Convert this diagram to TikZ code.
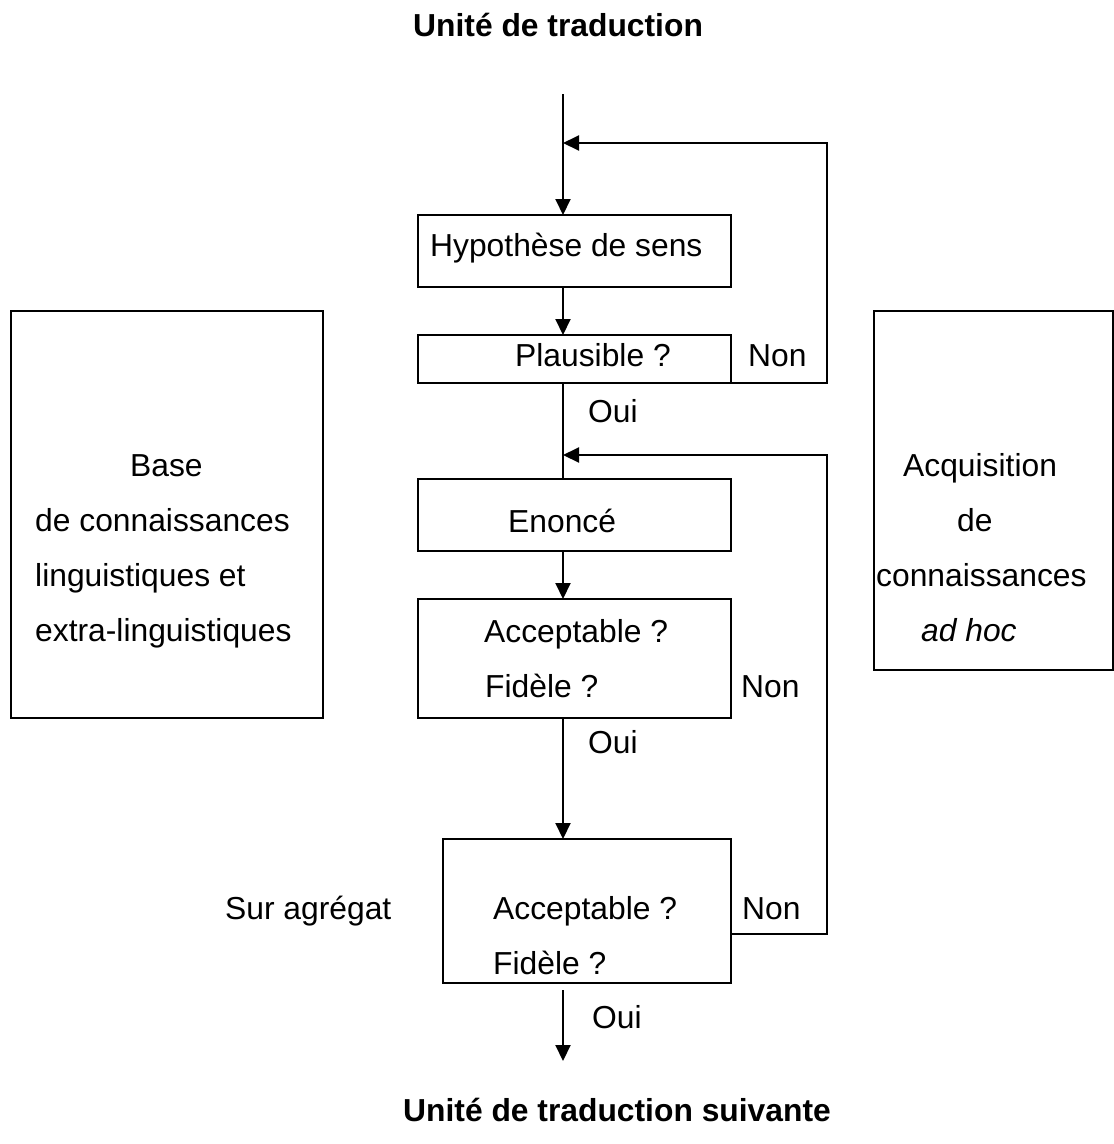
\documentclass[tikz,border=0pt]{standalone}
\usepackage{fontspec}
\setmainfont{Liberation Sans}
\usetikzlibrary{arrows.meta}
\begin{document}
\begin{tikzpicture}[x=1pt,y=-1pt,
  box/.style={draw, line width=2pt, inner sep=0pt, outer sep=0pt, minimum width=313pt},
  txt/.style={inner sep=0pt, anchor=base west, font=\fontsize{31.8}{38}\selectfont},
  ttl/.style={inner sep=0pt, anchor=base west, font=\fontsize{31.8}{38}\selectfont\bfseries},
  itxt/.style={inner sep=0pt, anchor=base west, font=\fontsize{31.8}{38}\selectfont\itshape},
  conn/.style={line width=2pt},
  arr/.style={conn, -{Triangle[length=16pt,width=15pt]}}]
\useasboundingbox[fill=white] (0,0) rectangle (1114,1144);

% boxes
\node[box, minimum height=72pt] (hyp) at (574.5,251) {};
\node[box, minimum height=48pt] (plaus) at (574.5,359) {};
\node[box, minimum height=72pt] (enon) at (574.5,515) {};
\node[box, minimum height=119pt] (acc1) at (574.5,658.5) {};
\node[box, minimum width=288pt, minimum height=144pt] (acc2) at (587,911) {};
\node[box, minimum width=312pt, minimum height=407pt] (kb) at (167,514.5) {};
\node[box, minimum width=239pt, minimum height=359pt] (acq) at (993.5,490.5) {};

% coordinates
\coordinate (in) at (563,94);
\coordinate (j1) at (563,143);
\coordinate (r1) at (827,383);
\coordinate (r1t) at (827,143);
\coordinate (j2) at (563,455);
\coordinate (r2) at (827,934);
\coordinate (r2t) at (827,455);
\coordinate (o1) at (563,990);
\coordinate (o2) at (563,1061);

% connectors
\draw[arr] (in) -- (in |- hyp.north);
\draw[arr] (in |- hyp.south) -- (in |- plaus.north);
\draw[conn] (in |- plaus.south) -- (in |- enon.north);
\draw[arr] (in |- enon.south) -- (in |- acc1.north);
\draw[arr] (in |- acc1.south) -- (in |- acc2.north);
\draw[arr] (o1) -- (o2);
\draw[arr] (plaus.south east) -- (r1) -- (r1t) -- (j1);
\draw[arr] (acc2.east |- r2) -- (r2) -- (r2t) -- (j2);

% titles
\node[ttl] (t1) at (413,36) {Unité de traduction};
\node[ttl] (t2) at (403,1121) {Unité de traduction suivante};

% main column texts
\node[txt] (lhyp) at (430,256) {Hypothèse de sens};
\node[txt] (lplaus) at (515,366) {Plausible ?};
\node[txt] (non1) at (748,366) {Non};
\node[txt] (oui1) at (588,422) {Oui};
\node[txt] (lenon) at (508,532) {Enoncé};
\node[txt] (acca) at (484,642) {Acceptable ?};
\node[txt] (fida) at (485,697) {Fidèle ?};
\node[txt] (non2) at (741,697) {Non};
\node[txt] (oui2) at (588,753) {Oui};
\node[txt] (sur) at (225,919) {Sur agrégat};
\node[txt] (accb) at (493,919) {Acceptable ?};
\node[txt] (fidb) at (493,974) {Fidèle ?};
\node[txt] (non3) at (742,919) {Non};
\node[txt] (oui3) at (592,1028) {Oui};

% left box texts
\node[txt] (kb1) at (130,476) {Base};
\node[txt] (kb2) at (35,531.5) {de connaissances};
\node[txt] (kb3) at (35,586.5) {linguistiques et};
\node[txt] (kb4) at (35,641.5) {extra-linguistiques};

% right box texts
\node[txt] (aq1) at (903,476) {Acquisition};
\node[txt] (aq2) at (957,531.5) {de};
\node[txt] (aq3) at (876,586.5) {connaissances};
\node[itxt] (aq4) at (921,641.5) {ad hoc};
\end{tikzpicture}
\end{document}
